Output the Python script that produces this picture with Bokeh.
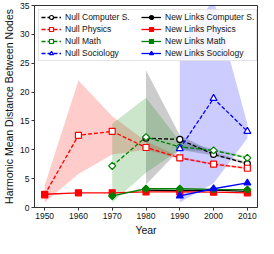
from bokeh.plotting import figure
from bokeh.models import Legend, LegendItem, FixedTicker, Range1d
from bokeh.embed import file_html
from bokeh.resources import INLINE
import numpy as np

# ---------------- data ----------------
cs_years = [1980, 1990, 2000, 2010]
cs_null = [12.0, 11.8, 9.2, 7.6]
cs_new = [3.0, 2.9, 3.0, 2.8]
cs_low = [4.0, 10.0, 9.0, 7.4]
cs_high = [23.8, 12.5, 9.6, 7.9]

ph_years = [1950, 1960, 1970, 1980, 1990, 2000, 2010]
ph_null = [2.2, 12.5, 13.2, 10.4, 8.6, 7.5, 6.8]
ph_new = [2.3, 2.55, 2.55, 2.7, 2.7, 2.65, 2.55]
ph_low = [0.85, 5.8, 9.2, 10.0, 8.4, 7.3, 6.6]
ph_high = [3.8, 22.0, 15.8, 11.5, 8.8, 7.7, 7.0]

ma_years = [1970, 1980, 1990, 2000, 2010]
ma_null = [7.2, 12.2, 10.5, 9.9, 8.6]
ma_new = [2.0, 3.25, 3.25, 3.15, 3.1]
ma_low = [0.85, 6.0, 10.0, 9.7, 8.4]
ma_high = [14.5, 19.0, 11.5, 10.2, 8.9]

so_years = [1990, 2000, 2010]
so_null = [10.2, 18.9, 13.2]
so_new = [2.0, 3.25, 4.25]
so_low = [0.85, 4.2, 12.0]
so_high = [28.0, 36.0, 14.5]

x_ticks = [1950, 1960, 1970, 1980, 1990, 2000, 2010]
y_ticks = [0, 5, 10, 15, 20, 25, 30, 35]

FONT = "Liberation Sans"
FRAME = "#333333"

p = figure(width=258, height=238, x_range=Range1d(1947, 2013), y_range=Range1d(0, 35),
           output_backend="svg", toolbar_location=None,
           min_border_left=20, min_border_right=1, min_border_top=5, min_border_bottom=10)

p.xgrid.visible = False
p.ygrid.visible = False
p.outline_line_color = FRAME
p.outline_line_width = 1
p.background_fill_color = "white"
p.border_fill_color = "white"

for ax in (p.xaxis[0], p.yaxis[0]):
    ax.axis_line_color = FRAME
    ax.major_tick_line_color = FRAME
    ax.major_tick_out = 3
    ax.major_tick_in = 0
    ax.minor_tick_line_color = None
    ax.major_label_text_font = FONT
    ax.major_label_text_font_size = "8.5px"
    ax.major_label_text_color = "#111111"
    ax.axis_label_text_font = FONT
    ax.axis_label_text_font_size = "10.5px"
    ax.axis_label_text_font_style = "normal"
    ax.axis_label_text_color = "#111111"
    ax.major_label_standoff = 2
    ax.axis_label_standoff = 2

p.xaxis.ticker = FixedTicker(ticks=x_ticks)
p.yaxis.ticker = FixedTicker(ticks=y_ticks)
p.xaxis.axis_label = "Year"
p.yaxis.axis_label = "Harmonic Mean Distance Between Nodes"

domains = [
    ("Computer S.", cs_years, cs_null, cs_new, cs_low, cs_high, "black", "circle", 6, 0),
    ("Physics", ph_years, ph_null, ph_new, ph_low, ph_high, "#ff0000", "square", 6, 0),
    ("Math", ma_years, ma_null, ma_new, ma_low, ma_high, "#008000", "square", 5, np.pi / 4),
    ("Sociology", so_years, so_null, so_new, so_low, so_high, "#0000ff", "triangle", 7, 0),
]

# bands first
for name, yrs, nul, new, lo, hi, col, mk, sz, ang in domains:
    p.varea(x=yrs, y1=lo, y2=hi, fill_color=col, fill_alpha=0.2)

null_items = []
new_items = []
for name, yrs, nul, new, lo, hi, col, mk, sz, ang in domains:
    l1 = p.line(yrs, nul, line_color=col, line_width=1.3, line_dash="4 2")
    s1 = p.scatter(yrs, nul, marker=mk, size=sz, angle=ang, line_color=col, line_width=1.2,
                   fill_color="white")
    l2 = p.line(yrs, new, line_color=col, line_width=1.3)
    s2 = p.scatter(yrs, new, marker=mk, size=sz, angle=ang, line_color=col, line_width=1.2,
                   fill_color=col)
    null_items.append(LegendItem(label="Null " + name, renderers=[l1, s1]))
    new_items.append(LegendItem(label="New Links " + name, renderers=[l2, s2]))

legend = Legend(items=null_items + new_items, ncols=2, orientation="vertical",
                location="top_left", margin=4, padding=2, spacing=2,
                label_text_font=FONT, label_text_font_size="8.5px",
                label_text_color="#111111",
                label_height=10, glyph_height=10, glyph_width=20,
                label_standoff=4, label_width=74,
                border_line_color="#cccccc", border_line_width=1,
                background_fill_color="white", background_fill_alpha=0.8)
p.add_layout(legend)

open("out.html", "w").write(file_html(p, INLINE))
